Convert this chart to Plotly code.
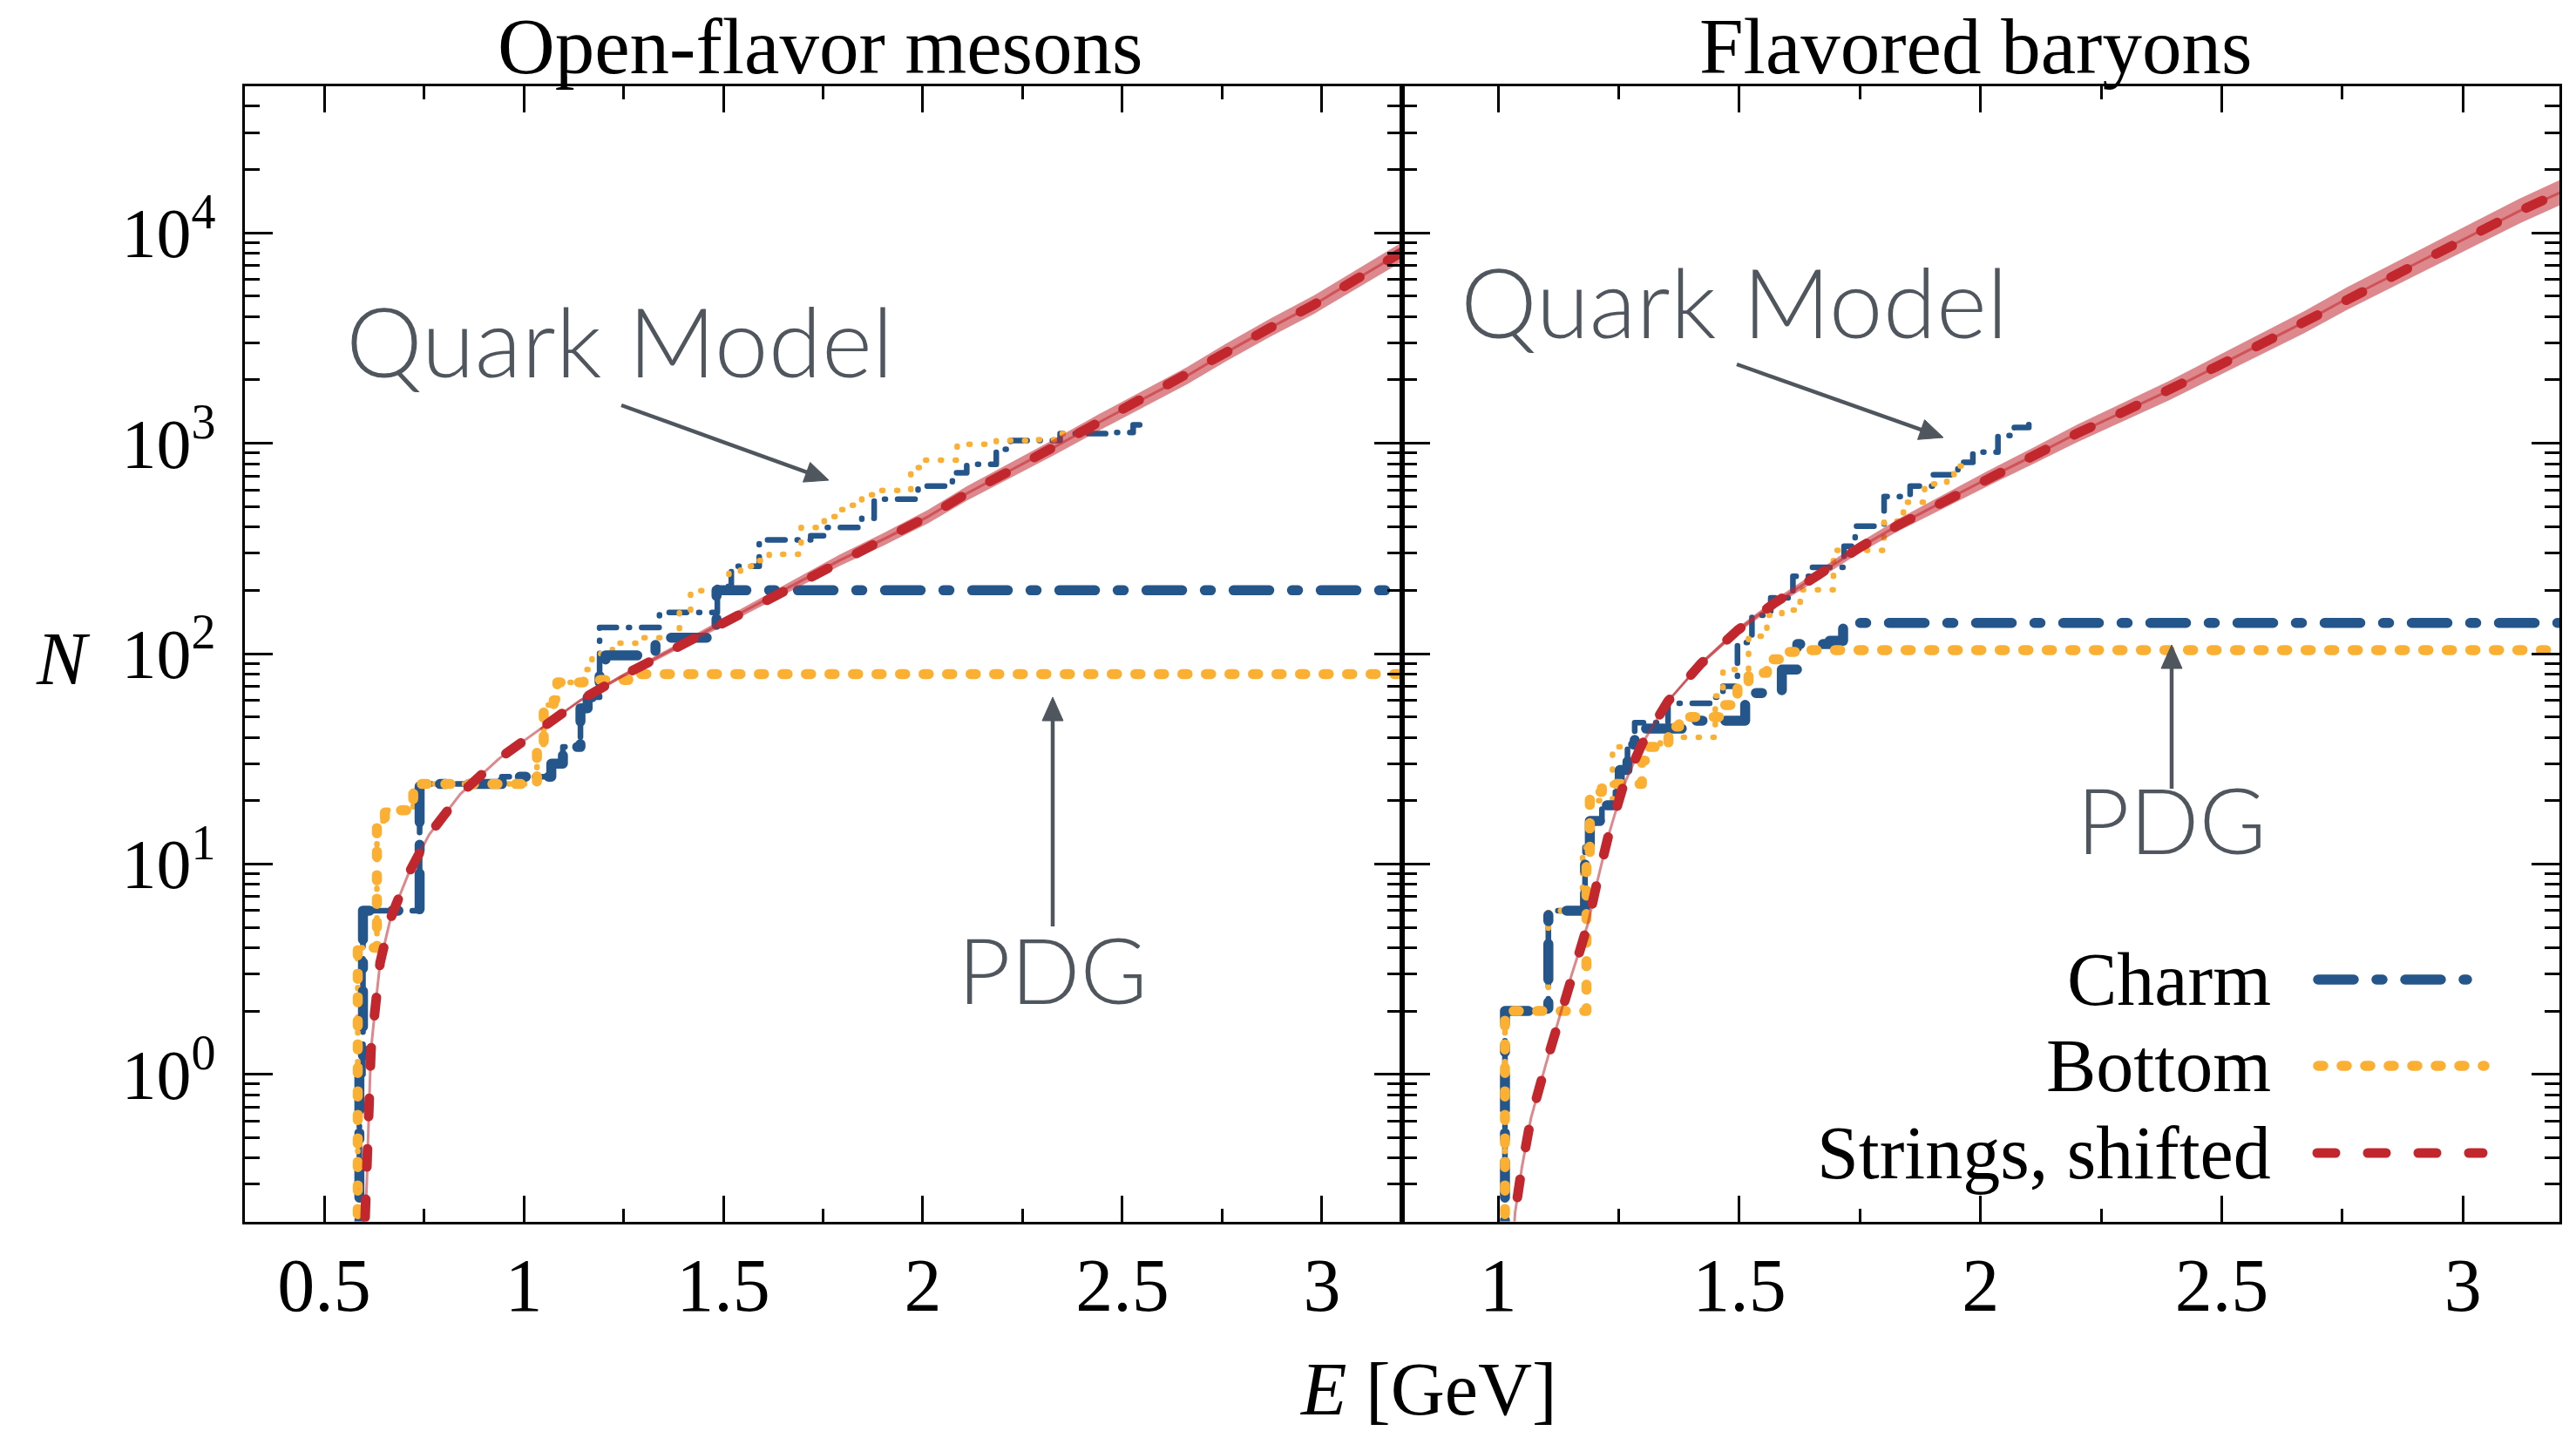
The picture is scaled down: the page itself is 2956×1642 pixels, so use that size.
import math
import plotly.graph_objects as go

W, H = 2956, 1642

# ---------------- Open-flavor mesons ----------------
# cumulative state counts: N holds from each E onward
MES_CHARM_PDG_E = [0.588, 0.597, 0.739, 0.945, 1.069, 1.098, 1.142, 1.160, 1.190, 1.205, 1.330, 1.483]
MES_CHARM_PDG_N = [1, 6, 24, 26, 30, 36, 55, 62, 80, 98, 119, 200]

MES_BOTTOM_PDG_E = [0.584, 0.632, 0.652, 0.723, 1.033, 1.050, 1.075, 1.084, 1.150, 1.262]
MES_BOTTOM_PDG_N = [4, 16, 18, 24, 37, 57, 60, 73, 75, 80]

MES_CHARM_QM_E = [0.588, 0.597, 0.739, 0.945, 1.069, 1.098, 1.142, 1.160, 1.190, 1.340, 1.485,
                  1.520, 1.590, 1.608, 1.719, 1.755, 1.847, 1.878, 1.988, 2.074, 2.110, 2.184,
                  2.220, 2.344, 2.466, 2.527]
MES_CHARM_QM_N = [1, 6, 24, 26, 30, 36, 55, 62, 133, 157, 209, 260, 337, 347, 363, 398, 440, 542,
                  626, 724, 795, 937, 1031, 1111, 1125, 1222]
MES_CHARM_QM_END = 2.555

MES_BOTTOM_QM_E = [0.584, 0.632, 0.652, 0.723, 1.033, 1.050, 1.075, 1.084, 1.149, 1.171, 1.222,
                   1.300, 1.390, 1.418, 1.514, 1.543, 1.578, 1.615, 1.688, 1.695, 1.753, 1.786,
                   1.823, 1.847, 1.884, 1.970, 2.006, 2.086, 2.184, 2.270, 2.344]
MES_BOTTOM_QM_N = [4, 16, 18, 24, 37, 57, 60, 73, 84, 100, 112, 119, 160, 199, 244, 260, 277, 297,
                   325, 398, 448, 484, 507, 569, 597, 767, 832, 990, 1031, 1040, 1111]
MES_BOTTOM_QM_END = 2.420

MES_STRING_E = [0.598, 0.607, 0.612, 0.617, 0.627, 0.640, 0.666, 0.710, 0.763, 0.841, 0.939,
                1.040, 1.142, 1.243, 1.352, 1.461, 1.570, 1.680, 1.792, 1.902, 2.013, 2.110,
                2.221, 2.331, 2.442, 2.552, 2.662, 2.760, 2.870, 2.981, 3.090, 3.200]
MES_STRING_N = [0.12, 0.32, 0.67, 1.3, 2.0, 3.4, 5.5, 8.9, 13.8, 21.5, 31.8, 43.7, 60, 77.6, 100,
                129, 166, 214, 278, 350, 448, 577, 743, 962, 1259, 1629, 2093, 2703, 3540, 4570,
                6085, 8100]

MES_BAND_E = [1.040, 1.142, 1.243, 1.352, 1.461, 1.570, 1.680, 1.792, 1.902, 2.013, 2.110,
              2.221, 2.331, 2.442, 2.552, 2.662, 2.760, 2.870, 2.981, 3.090, 3.200]
MES_BAND_LO = [43.3, 59.2, 76.0, 97.0, 124.0, 158.2, 202.5, 261.3, 326.6, 416.2, 533.6, 683.9,
               881.4, 1150.8, 1485.6, 1904.5, 2454.0, 3206.2, 4129.8, 5486.0, 7286.1]
MES_BAND_HI = [44.1, 60.8, 79.2, 103.0, 134.1, 174.2, 226.2, 295.8, 375.0, 482.3, 624.0, 807.2,
               1049.9, 1377.3, 1786.2, 2300.2, 2977.4, 3908.5, 5057.2, 6749.5, 9004.8]

# ---------------- Flavored baryons ----------------
BAR_CHARM_PDG_E = [1.014, 1.104, 1.180, 1.190, 1.215, 1.243, 1.252, 1.268, 1.283, 1.381, 1.512,
                   1.519, 1.588, 1.620, 1.687, 1.715]
BAR_CHARM_PDG_N = [2, 6, 12, 16, 19, 22, 28, 37, 44, 48, 59, 65, 84, 111, 115, 140]

BAR_BOTTOM_PDG_E = [1.014, 1.183, 1.190, 1.215, 1.298, 1.313, 1.353, 1.375, 1.458, 1.496, 1.519,
                    1.557, 1.603, 1.633]
BAR_BOTTOM_PDG_N = [2, 11, 22, 24, 31, 36, 45, 50, 57, 71, 81, 94, 102, 104]

BAR_CHARM_QM_E = [1.014, 1.104, 1.180, 1.190, 1.215, 1.243, 1.252, 1.268, 1.283, 1.352, 1.443,
                  1.466, 1.496, 1.526, 1.565, 1.611, 1.649, 1.717, 1.740, 1.800, 1.854, 1.900,
                  1.953, 1.984, 2.036, 2.070, 2.100]
BAR_CHARM_QM_N = [2, 6, 12, 16, 19, 22, 28, 37, 47, 58, 62, 70, 113, 152, 184, 233, 257, 324, 404,
                  558, 626, 708, 811, 908, 1089, 1189, 1230]
BAR_CHARM_QM_END = 2.118

BAR_BOTTOM_QM_E = [1.014, 1.104, 1.175, 1.190, 1.237, 1.336, 1.450, 1.466, 1.519, 1.557, 1.588,
                   1.626, 1.695, 1.800, 1.840, 1.884, 1.930, 1.945]
BAR_BOTTOM_QM_N = [2, 6, 12, 20, 36, 40, 63, 84, 121, 152, 161, 201, 310, 426, 525, 641, 694, 780]
BAR_BOTTOM_QM_END = 1.961

BAR_STRING_E = [1.030, 1.035, 1.049, 1.068, 1.098, 1.125, 1.152, 1.186, 1.204, 1.228, 1.258,
                1.298, 1.352, 1.420, 1.496, 1.573, 1.664, 1.748, 1.831, 1.922, 2.016, 2.114,
                2.201, 2.297, 2.392, 2.488, 2.576, 2.672, 2.759, 2.846, 2.942, 3.029, 3.117, 3.200]
BAR_STRING_N = [0.15, 0.22, 0.36, 0.62, 1.1, 1.8, 2.96, 5.2, 8.0, 13.5, 23, 37.2, 59.4, 89.5, 129,
                174, 237, 318, 410, 528, 682, 883, 1117, 1413, 1786, 2308, 2915, 3776, 4866, 6150,
                7945, 10050, 12700, 15500]

BAR_BAND_E = [1.352, 1.420, 1.496, 1.573, 1.664, 1.748, 1.831, 1.922, 2.016, 2.114, 2.201, 2.297,
              2.392, 2.488, 2.576, 2.672, 2.759, 2.846, 2.942, 3.029, 3.117, 3.200]
BAR_BAND_LO = [58.6, 87.7, 125.2, 167.3, 225.8, 300.2, 383.5, 489.4, 627.8, 807.1, 1014.1, 1276.9,
               1606.6, 2066.4, 2598.0, 3349.9, 4297.1, 5418.5, 6968.1, 8793.4, 11086.9, 13499.4]
BAR_BAND_HI = [60.2, 91.4, 132.9, 180.9, 248.7, 336.9, 438.3, 569.7, 740.9, 966.0, 1230.4, 1563.6,
               1985.5, 2577.8, 3270.6, 4256.3, 5510.2, 6980.3, 9058.9, 11486.1, 14547.9, 17797.1]

# ---------------- axes / labels ----------------
E_MAX = 3.20
MES_XRANGE = [0.30, E_MAX]
BAR_XRANGE = [0.80, E_MAX]
N_RANGE = [0.2, 5.0e4]
N_FLOOR = 0.1  # below the visible range: where the staircase rises from zero
X_TICKS = [0.5, 1, 1.5, 2, 2.5, 3]
X_TICKTEXT = ["0.5", "1", "1.5", "2", "2.5", "3"]
Y_TICKS = [1, 10, 100, 1000, 10000]
Y_TICKTEXT = ["10<sup>0</sup>", "10<sup>1</sup>", "10<sup>2</sup>", "10<sup>3</sup>", "10<sup>4</sup>"]
PANEL_TITLES = ["Open-flavor mesons", "Flavored baryons"]
LEGEND_LABELS = ["Charm", "Bottom", "Strings, shifted"]

BLUE = "#24568b"
ORANGE = "#fbb034"
RED = "#c1272d"
PINK = "rgba(193,39,45,0.55)"
GRAY = "#50565e"
SERIF = "Liberation Serif"
SANS = "Lato"

CHARM_THICK = dict(color=BLUE, width=11.5, dash="41px,26px,7px,26px")
BOTTOM_THICK = dict(color=ORANGE, width=11.5, dash="6px,21px")
CHARM_THIN = dict(color=BLUE, width=6.5, dash="20px,14px,1px,14px")
BOTTOM_THIN = dict(color=ORANGE, width=6.5, dash="1px,16px")
STRING_LINE = dict(color=RED, width=11, dash="21px,37px")


def px(x):
    return x / W


def py(y):
    return 1 - y / H


def staircase(E, N, E_end):
    xs = [E[0]] + list(E) + [E_end]
    ys = [N_FLOOR] + list(N) + [N[-1]]
    return xs, ys


fig = go.Figure()


def add_panel(xa, ya, charm_qm, bottom_qm, charm_pdg, bottom_pdg, string, band):
    for (E, N, end), line in ((charm_qm, CHARM_THIN), (bottom_qm, BOTTOM_THIN),
                              (charm_pdg, CHARM_THICK), (bottom_pdg, BOTTOM_THICK)):
        xs, ys = staircase(E, N, end)
        fig.add_trace(go.Scatter(x=xs, y=ys, mode="lines", line=dict(shape="hv", **line),
                                 xaxis=xa, yaxis=ya, showlegend=False, hoverinfo="skip"))
    bE, blo, bhi = band
    fig.add_trace(go.Scatter(x=bE, y=blo, mode="lines", line=dict(width=0, color=PINK),
                             xaxis=xa, yaxis=ya, showlegend=False, hoverinfo="skip"))
    fig.add_trace(go.Scatter(x=bE, y=bhi, mode="lines", line=dict(width=0, color=PINK),
                             fill="tonexty", fillcolor=PINK,
                             xaxis=xa, yaxis=ya, showlegend=False, hoverinfo="skip"))
    sE, sN = string
    fig.add_trace(go.Scatter(x=sE, y=sN, mode="lines", line=dict(color=PINK, width=3),
                             xaxis=xa, yaxis=ya, showlegend=False, hoverinfo="skip"))
    fig.add_trace(go.Scatter(x=sE, y=sN, mode="lines", line=STRING_LINE,
                             xaxis=xa, yaxis=ya, showlegend=False, hoverinfo="skip"))


add_panel("x", "y",
          (MES_CHARM_QM_E, MES_CHARM_QM_N, MES_CHARM_QM_END),
          (MES_BOTTOM_QM_E, MES_BOTTOM_QM_N, MES_BOTTOM_QM_END),
          (MES_CHARM_PDG_E, MES_CHARM_PDG_N, E_MAX),
          (MES_BOTTOM_PDG_E, MES_BOTTOM_PDG_N, E_MAX),
          (MES_STRING_E, MES_STRING_N),
          (MES_BAND_E, MES_BAND_LO, MES_BAND_HI))
add_panel("x2", "y2",
          (BAR_CHARM_QM_E, BAR_CHARM_QM_N, BAR_CHARM_QM_END),
          (BAR_BOTTOM_QM_E, BAR_BOTTOM_QM_N, BAR_BOTTOM_QM_END),
          (BAR_CHARM_PDG_E, BAR_CHARM_PDG_N, E_MAX),
          (BAR_BOTTOM_PDG_E, BAR_BOTTOM_PDG_N, E_MAX),
          (BAR_STRING_E, BAR_STRING_N),
          (BAR_BAND_E, BAR_BAND_LO, BAR_BAND_HI))

x_left = [px(280.5), px(1608.5)]
x_right = [px(1608.5), px(2937)]
y_dom = [py(1401.5), py(98.5)]
log_range = [math.log10(N_RANGE[0]), math.log10(N_RANGE[1])]

common_x = dict(showline=True, linewidth=3, linecolor="black", mirror="ticks",
                ticks="inside", ticklen=30, tickwidth=2.5, tickcolor="black",
                tickvals=X_TICKS, ticktext=X_TICKTEXT, showgrid=False, zeroline=False,
                tickfont=dict(family=SERIF, size=86, color="black"), ticklabelstandoff=-4,
                minor=dict(ticks="inside", ticklen=15, tickwidth=2.5, tickcolor="black",
                           dtick=0.25, tick0=0, showgrid=False))
common_y = dict(type="log", range=log_range, showline=True, linewidth=3, linecolor="black",
                mirror="ticks", ticks="inside", ticklen=32, tickwidth=2.5, tickcolor="black",
                tickvals=Y_TICKS, ticktext=Y_TICKTEXT, showgrid=False, zeroline=False,
                tickfont=dict(family=SERIF, size=80, color="black"), ticklabelstandoff=14,
                minor=dict(ticks="inside", ticklen=17, tickwidth=2.5, tickcolor="black",
                           dtick="D1", showgrid=False))

fig.update_layout(
    width=W, height=H, margin=dict(l=0, r=0, t=0, b=0),
    paper_bgcolor="white", plot_bgcolor="white", showlegend=False,
    xaxis=dict(domain=x_left, range=MES_XRANGE, anchor="y", **common_x),
    xaxis2=dict(domain=x_right, range=BAR_XRANGE, anchor="y2", **common_x),
    yaxis=dict(domain=y_dom, anchor="x", **common_y),
    yaxis2=dict(domain=y_dom, anchor="x2", **common_y),
)
fig.update_layout(yaxis2=dict(showticklabels=False))

ann = []
# panel titles
for title, cx in zip(PANEL_TITLES, (941, 2267)):
    ann.append(dict(text=title, x=px(cx), y=py(53), xref="paper", yref="paper",
                    showarrow=False, xanchor="center", yanchor="middle",
                    font=dict(family=SERIF, size=91, color="black")))
# axis titles
ann.append(dict(text="<i>N</i>", x=px(72), y=py(756), xref="paper", yref="paper",
                showarrow=False, xanchor="center", yanchor="middle",
                font=dict(family=SERIF, size=86, color="black")))
ann.append(dict(text="<i>E</i> [GeV]", x=px(1639), y=py(1594), xref="paper", yref="paper",
                showarrow=False, xanchor="center", yanchor="middle",
                font=dict(family=SERIF, size=86, color="black")))

# callout labels
for text, cx, cy, size in (("Quark Model", 711, 390, 111), ("Quark Model", 1990, 345, 111),
                           ("PDG", 1208, 1111, 105), ("PDG", 2492, 939, 105)):
    ann.append(dict(text=text, x=px(cx), y=py(cy), xref="paper", yref="paper",
                    showarrow=False, xanchor="center", yanchor="middle",
                    font=dict(family=SANS, size=size, color=GRAY, weight=300)))

shapes = []
# callout arrows: shaft plus filled triangular head (pixel geometry -> paper)
HEAD_LEN, HEAD_HALF = 27.0, 12.0
for (tx, ty), (hx, hy) in (((713, 465), (951, 551)), ((1993, 418), (2230, 502)),
                           ((1208, 1063), (1208, 800)), ((2492, 905), (2492, 740))):
    dx, dy = hx - tx, hy - ty
    L = math.hypot(dx, dy)
    ux, uy = dx / L, dy / L
    bx, by = hx - ux * HEAD_LEN, hy - uy * HEAD_LEN
    nx, ny = -uy, ux
    shapes.append(dict(type="line", xref="paper", yref="paper",
                       x0=px(tx), y0=py(ty), x1=px(bx + ux * 4), y1=py(by + uy * 4),
                       line=dict(color=GRAY, width=4.5)))
    head = "M{},{} L{},{} L{},{} Z".format(
        px(hx), py(hy),
        px(bx + nx * HEAD_HALF), py(by + ny * HEAD_HALF),
        px(bx - nx * HEAD_HALF), py(by - ny * HEAD_HALF))
    shapes.append(dict(type="path", xref="paper", yref="paper", path=head,
                       fillcolor=GRAY, line=dict(color=GRAY, width=1)))

# legend (text right-aligned, sample to the right)
legend_rows = [(LEGEND_LABELS[0], 1124, CHARM_THICK, 2660, 2831),
               (LEGEND_LABELS[1], 1223, BOTTOM_THICK, 2660, 2851),
               (LEGEND_LABELS[2], 1323, STRING_LINE, 2659, 2849)]
for label, yc, line, x0, x1 in legend_rows:
    ann.append(dict(text=label, x=px(2608), y=py(yc), xref="paper", yref="paper",
                    showarrow=False, xanchor="right", yanchor="middle",
                    font=dict(family=SERIF, size=86, color="black")))
    shapes.append(dict(type="line", xref="paper", yref="paper", x0=px(x0), x1=px(x1),
                       y0=py(yc), y1=py(yc),
                       line=dict(color=line["color"], width=line["width"], dash=line["dash"])))

fig.update_layout(annotations=ann, shapes=shapes)

round_caps = (
    "var s=document.createElement('style');"
    "s.textContent='.js-line{stroke-linecap:round;stroke-linejoin:round}"
    ".shapelayer path[style*=dasharray]{stroke-linecap:round}';"
    "document.head.appendChild(s);"
)
fig.write_html("out.html", post_script=round_caps)
